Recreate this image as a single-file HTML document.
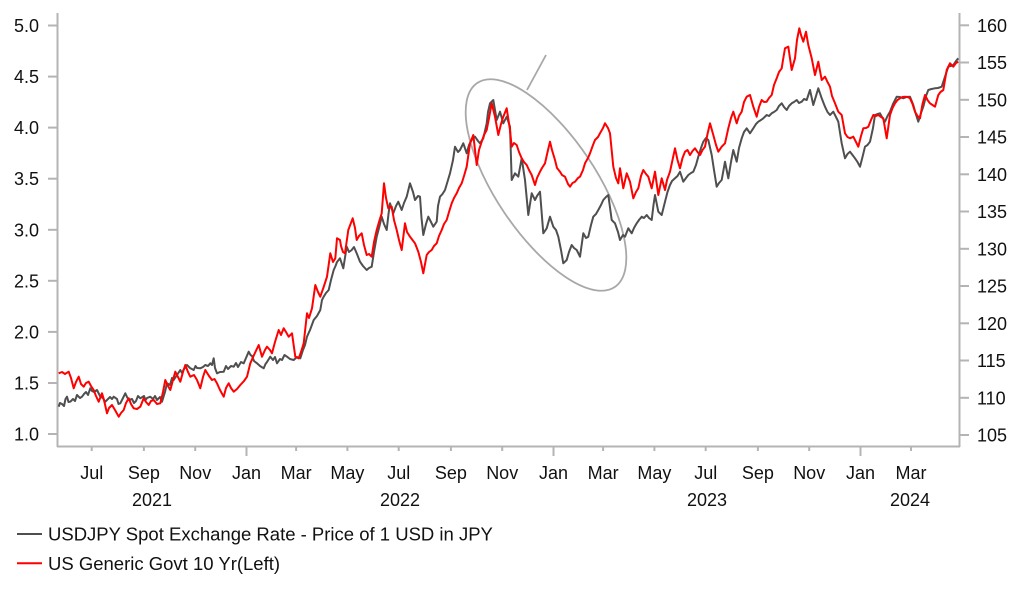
<!DOCTYPE html>
<html>
<head>
<meta charset="utf-8">
<style>
html,body{margin:0;padding:0;background:#fff;}
svg{display:block;}
text{font-family:"Liberation Sans",Arial,sans-serif;font-size:18px;fill:#111;}
.lg{font-size:18.5px;}
</style>
</head>
<body>
<svg width="1022" height="597" viewBox="0 0 1022 597" xmlns="http://www.w3.org/2000/svg">
<g stroke="#b4b4b4" stroke-width="2" fill="none">
<line x1="57.5" y1="13" x2="57.5" y2="447"/>
<line x1="959.5" y1="13" x2="959.5" y2="447"/>
<line x1="57" y1="446.5" x2="960" y2="446.5"/>
<line x1="48" y1="25.5" x2="57" y2="25.5"/>
<line x1="48" y1="76.6" x2="57" y2="76.6"/>
<line x1="48" y1="127.6" x2="57" y2="127.6"/>
<line x1="48" y1="178.7" x2="57" y2="178.7"/>
<line x1="48" y1="229.8" x2="57" y2="229.8"/>
<line x1="48" y1="280.8" x2="57" y2="280.8"/>
<line x1="48" y1="331.9" x2="57" y2="331.9"/>
<line x1="48" y1="383" x2="57" y2="383"/>
<line x1="48" y1="434" x2="57" y2="434"/>
<line x1="960" y1="25.3" x2="969" y2="25.3"/>
<line x1="960" y1="62.5" x2="969" y2="62.5"/>
<line x1="960" y1="99.8" x2="969" y2="99.8"/>
<line x1="960" y1="137" x2="969" y2="137"/>
<line x1="960" y1="174.3" x2="969" y2="174.3"/>
<line x1="960" y1="211.5" x2="969" y2="211.5"/>
<line x1="960" y1="248.8" x2="969" y2="248.8"/>
<line x1="960" y1="286" x2="969" y2="286"/>
<line x1="960" y1="323.3" x2="969" y2="323.3"/>
<line x1="960" y1="360.5" x2="969" y2="360.5"/>
<line x1="960" y1="397.8" x2="969" y2="397.8"/>
<line x1="960" y1="435" x2="969" y2="435"/>
<line x1="91.7" y1="446" x2="91.7" y2="451"/>
<line x1="143.9" y1="446" x2="143.9" y2="451"/>
<line x1="195.2" y1="446" x2="195.2" y2="451"/>
<line x1="246.5" y1="446" x2="246.5" y2="456"/>
<line x1="296.1" y1="446" x2="296.1" y2="451"/>
<line x1="347.4" y1="446" x2="347.4" y2="451"/>
<line x1="398.7" y1="446" x2="398.7" y2="451"/>
<line x1="450.9" y1="446" x2="450.9" y2="451"/>
<line x1="502.2" y1="446" x2="502.2" y2="451"/>
<line x1="553.5" y1="446" x2="553.5" y2="456"/>
<line x1="603.1" y1="446" x2="603.1" y2="451"/>
<line x1="654.4" y1="446" x2="654.4" y2="451"/>
<line x1="705.7" y1="446" x2="705.7" y2="451"/>
<line x1="757.9" y1="446" x2="757.9" y2="451"/>
<line x1="809.2" y1="446" x2="809.2" y2="451"/>
<line x1="860.5" y1="446" x2="860.5" y2="456"/>
<line x1="911" y1="446" x2="911" y2="451"/>
</g>

<g text-anchor="end">
<text x="39" y="32">5.0</text>
<text x="39" y="83.1">4.5</text>
<text x="39" y="134.1">4.0</text>
<text x="39" y="185.2">3.5</text>
<text x="39" y="236.3">3.0</text>
<text x="39" y="287.3">2.5</text>
<text x="39" y="338.4">2.0</text>
<text x="39" y="389.5">1.5</text>
<text x="39" y="440.5">1.0</text>
</g>
<g text-anchor="start">
<text x="977" y="31.8">160</text>
<text x="977" y="69">155</text>
<text x="977" y="106.3">150</text>
<text x="977" y="143.5">145</text>
<text x="977" y="180.8">140</text>
<text x="977" y="218">135</text>
<text x="977" y="255.3">130</text>
<text x="977" y="292.5">125</text>
<text x="977" y="329.8">120</text>
<text x="977" y="367">115</text>
<text x="977" y="404.3">110</text>
<text x="977" y="441.5">105</text>
</g>
<g text-anchor="middle">
<text x="91.7" y="479">Jul</text>
<text x="143.9" y="479">Sep</text>
<text x="195.2" y="479">Nov</text>
<text x="246.5" y="479">Jan</text>
<text x="296.1" y="479">Mar</text>
<text x="347.4" y="479">May</text>
<text x="398.7" y="479">Jul</text>
<text x="450.9" y="479">Sep</text>
<text x="502.2" y="479">Nov</text>
<text x="553.5" y="479">Jan</text>
<text x="603.1" y="479">Mar</text>
<text x="654.4" y="479">May</text>
<text x="705.7" y="479">Jul</text>
<text x="757.9" y="479">Sep</text>
<text x="809.2" y="479">Nov</text>
<text x="860.5" y="479">Jan</text>
<text x="911" y="479">Mar</text>
<text x="152" y="506">2021</text>
<text x="400" y="506">2022</text>
<text x="707" y="506">2023</text>
<text x="910" y="506">2024</text>
</g>

<ellipse cx="546" cy="185" rx="123" ry="50" transform="rotate(56 546 185)" fill="none" stroke="#a8a8a8" stroke-width="1.8"/>
<line x1="527" y1="90" x2="546" y2="55" stroke="#a8a8a8" stroke-width="1.8"/>

<polyline fill="none" stroke="#4f4f4f" stroke-width="2" stroke-linejoin="round" points="58.7,406.7 60,403 62,404 64,406 65.5,399 67,396.7 68.5,402 70.3,401.7 73,399 75,401 77,395 80,398 82,396.7 84,394 86,392 88,395 90.3,388.3 92,391 94,392 97,390 99,394 100.3,396.7 103,398 105,402 107,400 110,397 112,399 113.7,396.7 117,399 118.5,404 120.3,403.3 123,398 125.3,393.3 127,397 128.7,400 132,399 134,403 136,401 138,396 140.3,398.3 144,396 145.5,400 147,398 150.3,396.7 153,399 155,396 157,400 160,397 162,401.7 165,392 167,383.3 170,385 172,378 173.7,380 177,375 180.3,370 182,373 184,369 187,365 190,368 193.7,370 195.5,366 197,368 200.3,368.3 203,367 205.3,365 208,366 210.3,363.3 212,365 213.7,358.3 215,368 217,373.3 220,372 223.7,371.7 226,366 228,369 231,366 233.7,366.7 236,363 238,367 241,362 243.7,363.3 246,358 248.7,351.7 250.5,355 252,356 254,361 257,363.3 260,366 263.7,368.3 265.5,364 267,362 270.3,356.7 273,360 275,357 277,363.3 280,359 282,360 284.5,355 287,356.7 290,359 293.7,360 297,357 300.3,358.3 303,350 305,345 307,336.7 310,330 311.5,326 313.7,320 317,316 320.3,310 322,300 323.7,296.7 326,293 328.7,290 331,280 333.7,270 335.5,266 337,262 340,258.3 343.3,268.3 346.7,246.7 349,252 351.7,250 354,247 356.7,253.3 360,261.7 363,266 366.7,270 369,268 371.7,266.7 374,252 376.7,236.7 379,228 381.7,216.7 384,224 386.7,230 388.5,214 390,203.3 393.3,213.3 396,206 398.3,201.7 401.7,210 404,203 406.7,196.7 410,183.3 413,192 415,200 418,196 420,196.7 421.5,218 423.3,235 426,224 428.3,216.7 431,222 433.3,226.7 436.7,221.7 438,206 440,196.7 442.5,194 445,190 448,180 450,173.3 453,160 455,146.7 458,152 460,150 463.3,143.3 466.7,153.3 469,145 471.7,140 475,136.7 478,141 480,143.3 483.3,138.3 486.7,123.3 488,112 490,103.3 493.3,100 495,110 496.7,120 500,111.7 503.3,123.3 506.7,116.7 510,126.7 511.7,180 515,173.3 518.3,176.7 521.7,158.3 525,180 528.3,215 531.7,193.3 535,200 537,196 540,191.7 543.3,233.3 546.7,228.3 550,216.7 553.3,226.7 556,230 558.3,236.7 561,250 563.3,263.3 566.7,260 569,252 571.7,245 574,248 576.7,250 580,256.7 583.3,233.3 586,238 588.3,236.7 591,225 593.3,216.7 596,214 598.3,210 601,205 603.3,200 606,197 608.3,195 611.7,220 615,223.3 618,232 620,240 623,235 625,236.7 628.3,228.3 631.7,233.3 634,228 636.7,223.3 639,220 641.7,216.7 644,218 646.7,215 649,218 651.7,220 653.5,205 655,195 658.3,211.7 661.7,215 665,201.7 667.5,192 670,185 672,181 675,178.3 677.5,176 680,171.7 683.3,181.7 686,178 688.3,175 691,173 693.3,171.7 696,165 698.3,156.7 701,148 703.3,141.7 706,138 708.3,140 711.7,155 714,170 716.7,186.7 719,183 721.7,180 725,161.7 728.3,178.3 731,162 733.3,150 736.7,161.7 739,148 741.7,138.3 744,132 746.7,128.3 750,133.3 753.3,128.3 756,124 758.3,121.7 761,120 763.3,118.3 766.7,115 769,116 771.7,113.3 774,112 776.7,110 779,106 781.7,103.3 784,107 786.7,110 789,106 791.7,103.3 794,102 796.7,100 799,103 801.7,101.7 804,99 806.7,100 810,90 813.3,105 818.3,88.3 821.7,98.3 825,106.7 827.5,112 830,115 833.3,111.7 836,117 838.3,121.7 841.7,143.3 845,158.3 847.5,154 850,151.7 852.5,155 855,158.3 857.5,162 860,166.7 863,155 865,146.7 867.5,145 870,141.7 873,128 875,115 877.5,114 880,113.3 882.5,118 885,121.7 887.5,116 890,111.7 893,104 896.7,96.7 900,97 903.3,98.3 906.5,97 910,96.7 913.3,105 915.5,113 918.3,121.7 921,113 923.3,106.7 926,96 928.3,90 931.5,89 935,88.3 938,88 941.7,86.7 945,76.7 948.3,66.7 951,66 953.3,65 956,61 958.3,58.3"/>

<polyline fill="none" stroke="#ff0000" stroke-width="2" stroke-linejoin="round" points="58.7,373.3 62,372 65,374 68.7,371.7 71,378 73.7,388.3 76,382 78.7,376.7 81,384 83.7,386.7 86,383 88.7,381.7 91,386 93.7,390 96,396 98.7,401.7 102,393.3 104,400 107,413.3 109,408 112,405 115,410 118.7,416.7 121,413 123.7,410 126,403 128.7,398.3 131,404 133.7,408.3 137,409 140.3,406.7 143.7,398.3 146,402 148.7,405 151,401 153.7,400 157,404 160.3,403.3 163,392 165.3,380 168,386 170.3,390 173,380 175.3,371.7 178,377 180.3,381.7 183,372 185.3,365 188,372 190.3,376.7 194,375 197,380 200.3,388.3 203,377 205.3,370 209,376 212,380 214.5,379 217,383.3 220,390 223.7,396.7 226,388 228.7,383.3 231,388 233.7,391.7 237,389 240.3,385 244,381 247,376.7 250.3,363.3 254,355 258.7,345 262,356.7 265,350 267,346.7 270,350 272,353.3 275,342 278.7,330 281,335 283.7,328.3 286,332 288.7,336.7 292,333.3 295.3,356.7 298.7,358.3 301,352 303.7,343.3 307,313.3 309,318 312,308.3 315.3,285 318,292 320.3,296.7 324,286 327,276.7 330.3,253.3 333,262 335.3,258.3 337,238.3 340,240 341,246 343,252 345,253.3 348.3,230 352.7,218.3 355,228 356.7,240 359,236 361.7,233.3 364,245 366.7,255 369,254 371.7,256.7 374,242 376.7,230 379,222 381.7,213.3 384,183.3 386,198 388.3,208.3 391.7,206.7 394,220 396.7,230 399,240 401.7,250 405,223.3 407,232 410,236.7 412.5,240 415,243.3 418.3,251.7 421,262 423.3,273.3 426.7,255 429,252 431.7,250 434,246 436.7,243.3 439,236 441.7,230 444,224 446.7,220 449,212 451.7,203.3 454,198 456.7,193.3 459,188 461.7,183.3 464,176 466.7,166.7 470,143.3 473.3,135 476.7,165 479,150 481.7,141.7 484,135 486.7,130 489,118 491.7,103.3 495,116.7 498.3,135 501,124 503.3,116.7 506.7,108.3 510,130 511.7,146.7 514,143 516.7,145 519,152 521.7,158.3 524,162 526.7,165 529,170 531.7,175 535,185 537,178 540,171.7 542,168 545,163.3 548,150 550,141.7 552,150 555,160 557,168 560,171.7 562,175 565,176.7 568,184 570,186.7 572.5,183 575,181.7 578,178 580,176.7 583,170 585,163.3 588,158 590,153.3 593,145 595,140 598,137 600,133.3 603,128 605,123.3 608,128 610,133.3 613.3,166.7 616,178 618.3,183.3 620,168.3 623.3,188.3 626.7,173.3 630,181.7 633.3,198.3 636,192 638.3,188.3 641,176 643.3,170 646,174 648.3,176.7 651.7,188.3 655,171.7 658.3,195 661.7,178.3 665,190 667,180 670,171.7 672.5,160 675,148.3 677.5,160 680,168.3 682.5,158 685,151.7 687.5,150 690,155 692.5,151 695,148.3 697.5,152 700,155 702.5,150 705,146.7 707.5,134 710,123.3 713.3,135 716,145 718.3,151.7 721.7,146.7 725,143.3 728.3,128.3 731,118 733.3,111.7 736.7,123.3 739,116 741.7,111.7 744,102 746.7,96.7 750,95 753.3,106.7 756.7,116.7 759,107 761.7,100 764,102 766.7,101.7 769,98 771.7,95 774,85 776.7,78.3 779,72 781.7,68.3 783,60 785,48.3 788.3,46.7 791.7,70 795,58.3 797,40 799.3,28.3 801,35 803.3,41.7 806,31.7 808.3,45 811.7,58.3 815,75 818.3,61.7 821.7,80 825,76.7 827.5,82 830,86.7 832,96 835,103.3 838.3,111.7 841.7,115 845,133.3 847.5,137 850,138.3 853.3,136.7 856,142 858.3,146.7 861,136 863.3,128.3 866,128 868.3,126.7 871,120 873.3,115 876,116 878.3,115 881,117 883.3,118.3 886.7,138.3 890,115 892.5,108 895,103.3 897.5,100 900,98.3 902.5,97 905,96.7 907.5,97 910,98.3 912.5,104 915,111.7 917.5,116 920,118.3 922.5,104 925,95 927.5,100 930,103.3 932.5,105 935,106.7 938.3,95 940.5,92 943.3,90 946.7,70 950,63.3 953.3,66.7 956,63 958.3,61.7"/>

<line x1="17" y1="534" x2="42" y2="534" stroke="#4f4f4f" stroke-width="2"/>
<text class="lg" x="48" y="540.6">USDJPY Spot Exchange Rate - Price of 1 USD in JPY</text>
<line x1="17" y1="563.3" x2="42" y2="563.3" stroke="#ff0000" stroke-width="2"/>
<text class="lg" x="48" y="569.9">US Generic Govt 10 Yr(Left)</text>
</svg>
</body>
</html>
